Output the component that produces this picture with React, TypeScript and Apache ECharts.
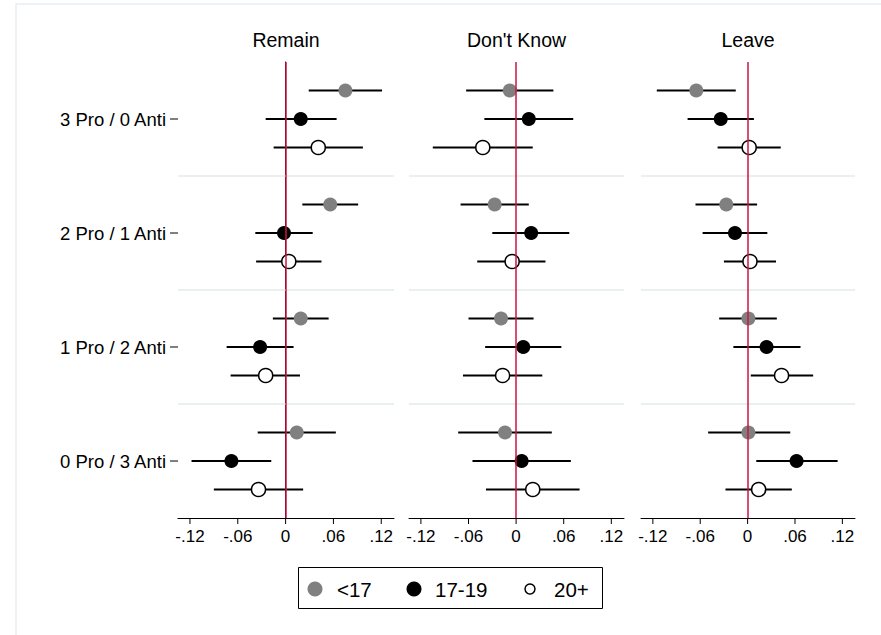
import React, { useEffect, useRef } from "react";
import * as echarts from "echarts";

// Row categories, bottom to top
const categories = ["0 Pro / 3 Anti", "1 Pro / 2 Anti", "2 Pro / 1 Anti", "3 Pro / 0 Anti"];
const panelTitles = ["Remain", "Don't Know", "Leave"];
const groupNames = ["<17", "17-19", "20+"];
const xTicks = [-0.12, -0.06, 0, 0.06, 0.12];

// [estimate, lower, upper] per category (bottom to top)
const remainLt17 = [[0.014, -0.035, 0.063], [0.019, -0.016, 0.054], [0.056, 0.021, 0.091], [0.075, 0.029, 0.121]];
const remain1719 = [[-0.068, -0.118, -0.018], [-0.032, -0.074, 0.010], [-0.002, -0.038, 0.034], [0.019, -0.025, 0.064]];
const remain20 = [[-0.034, -0.090, 0.022], [-0.025, -0.069, 0.018], [0.004, -0.037, 0.045], [0.041, -0.015, 0.097]];

const dkLt17 = [[-0.014, -0.073, 0.045], [-0.019, -0.060, 0.022], [-0.027, -0.070, 0.016], [-0.008, -0.063, 0.047]];
const dk1719 = [[0.007, -0.055, 0.069], [0.009, -0.039, 0.057], [0.019, -0.030, 0.067], [0.016, -0.040, 0.072]];
const dk20 = [[0.021, -0.038, 0.080], [-0.017, -0.067, 0.033], [-0.005, -0.049, 0.037], [-0.042, -0.105, 0.021]];

const leaveLt17 = [[0.001, -0.050, 0.054], [0.001, -0.036, 0.037], [-0.027, -0.066, 0.012], [-0.065, -0.115, -0.015]];
const leave1719 = [[0.062, 0.011, 0.114], [0.024, -0.018, 0.067], [-0.016, -0.057, 0.025], [-0.034, -0.076, 0.008]];
const leave20 = [[0.014, -0.028, 0.056], [0.043, 0.004, 0.083], [0.003, -0.030, 0.036], [0.002, -0.038, 0.042]];

const panelData = [
  [remainLt17, remain1719, remain20],
  [dkLt17, dk1719, dk20],
  [leaveLt17, leave1719, leave20],
];

const FONT = "'Liberation Sans', Arial, Helvetica, sans-serif";
const X_MIN = -0.135;
const X_MAX = 0.136;
const groupOffsets = [1, 0, -1];
const groupStyles = [
  { color: "#808080", borderColor: "#808080", borderWidth: 0 },
  { color: "#000000", borderColor: "#000000", borderWidth: 0 },
  { color: "#ffffff", borderColor: "#000000", borderWidth: 1.5 },
];
const grids = [
  { left: 178, top: 62, width: 216, height: 456 },
  { left: 409, top: 62, width: 215, height: 456 },
  { left: 641, top: 62, width: 214, height: 456 },
];

function fmtX(v: number) {
  if (Math.abs(v) < 1e-9) return "0";
  const s = Math.abs(v).toFixed(2).replace(/^0/, "");
  return (v < 0 ? "-" : "") + s;
}

export default function App() {
  const ref = useRef<HTMLDivElement>(null);
  useEffect(() => {
    if (!ref.current) return;
    const chart = echarts.init(ref.current, undefined, { renderer: "svg" });
    const yTickVals = categories.map((_, i) => 2 + 4 * i);

    const xAxis = grids.map((_, p) => ({
      type: "value",
      gridIndex: p,
      min: X_MIN,
      max: X_MAX,
      axisLine: { show: true, lineStyle: { color: "#000", width: 1 } },
      axisTick: { show: false },
      axisLabel: { show: true, customValues: xTicks, formatter: fmtX, fontSize: 17, color: "#000", fontFamily: FONT, margin: 10 },
      splitLine: { show: false },
    }));
    const yAxis = grids.map((_, p) => ({
      type: "value",
      gridIndex: p,
      min: 0,
      max: 16,
      axisLine: { show: p === 0, lineStyle: { color: "#000", width: 1 } },
      axisTick: { show: false },
      axisLabel: {
        show: p === 0,
        customValues: yTickVals,
        formatter: (v: number) => categories[Math.round((v - 2) / 4)] ?? "",
        fontSize: 18.5,
        color: "#000",
        fontFamily: FONT,
        margin: 12,
      },
      splitLine: { show: false },
    }));

    const series: any[] = [];
    grids.forEach((_, p) => {
      // reference lines
      series.push({
        type: "scatter",
        xAxisIndex: p,
        yAxisIndex: p,
        data: [],
        silent: true,
        z: 1,
        markLine: {
          silent: true,
          symbol: "none",
          label: { show: false },
          animation: false,
          data: [
            { yAxis: 4, lineStyle: { color: "#e9f0f2", width: 2, type: "solid" } },
            { yAxis: 8, lineStyle: { color: "#e9f0f2", width: 2, type: "solid" } },
            { yAxis: 12, lineStyle: { color: "#e9f0f2", width: 2, type: "solid" } },
            { xAxis: 0, lineStyle: { color: "#cc1445", width: 1.5, type: "solid" } },
          ],
        },
      });
      // x-axis tick marks
      series.push({
        type: "custom",
        xAxisIndex: p,
        yAxisIndex: p,
        silent: true,
        clip: false,
        z: 5,
        encode: { x: 0, y: 1 },
        data: xTicks.map((v) => [v, 0]),
        renderItem: (params: any, api: any) => {
          const c = api.coord([api.value(0), api.value(1)]);
          return {
            type: "line",
            shape: { x1: c[0], y1: c[1], x2: c[0], y2: c[1] + 6 },
            style: { stroke: "#000", lineWidth: 1 },
          };
        },
      });
      if (p === 0) {
        // y-axis tick marks
        series.push({
          type: "custom",
          xAxisIndex: p,
          yAxisIndex: p,
          silent: true,
          clip: false,
          z: 5,
          encode: { x: 0, y: 1 },
          data: yTickVals.map((v) => [X_MIN, v]),
          renderItem: (params: any, api: any) => {
            const c = api.coord([api.value(0), api.value(1)]);
            return {
              type: "line",
              shape: { x1: c[0], y1: c[1], x2: c[0] - 8, y2: c[1] },
              style: { stroke: "#000", lineWidth: 1 },
            };
          },
        });
      }
      panelData[p].forEach((arr, g) => {
        const off = groupOffsets[g];
        series.push({
          type: "custom",
          name: groupNames[g],
          xAxisIndex: p,
          yAxisIndex: p,
          z: 2,
          silent: true,
          encode: { x: [0, 1], y: 2 },
          data: arr.map((d, i) => [d[1], d[2], 2 + 4 * i + off]),
          renderItem: (params: any, api: any) => {
            const a = api.coord([api.value(0), api.value(2)]);
            const b = api.coord([api.value(1), api.value(2)]);
            return {
              type: "line",
              shape: { x1: a[0], y1: a[1], x2: b[0], y2: b[1] },
              style: { stroke: "#000", lineWidth: 2 },
            };
          },
        });
        series.push({
          type: "scatter",
          name: groupNames[g],
          xAxisIndex: p,
          yAxisIndex: p,
          z: 3,
          symbol: "circle",
          symbolSize: 14,
          itemStyle: { ...groupStyles[g], opacity: 1 },
          data: arr.map((d, i) => [d[0], 2 + 4 * i + off]),
        });
      });
    });

    const legendText = (t: string, x: number) => ({
      type: "text",
      x,
      y: 589,
      style: { text: t, textVerticalAlign: "middle", verticalAlign: "middle", fontSize: 20.5, fontFamily: FONT, fill: "#000" },
    });

    const graphic: any[] = [
      {
        type: "rect",
        shape: { x: 16, y: 4, width: 1000, height: 1000 },
        style: { fill: "none", stroke: "#e6eef2", lineWidth: 1.5 },
        silent: true,
        z: -10,
      },
      ...panelTitles.map((t, p) => ({
        type: "text",
        x: grids[p].left + grids[p].width / 2,
        y: 40,
        style: {
          text: t,
          textAlign: "center",
          textVerticalAlign: "middle",
          verticalAlign: "middle",
          fontSize: 19.5,
          fontFamily: FONT,
          fill: "#000",
        },
      })),
      {
        type: "rect",
        shape: { x: 298.5, y: 567.5, width: 304, height: 41 },
        style: { fill: "#fff", stroke: "#000", lineWidth: 1 },
      },
      { type: "circle", shape: { cx: 315, cy: 589, r: 7.5 }, style: { fill: "#808080" } },
      legendText(groupNames[0], 337),
      { type: "circle", shape: { cx: 414, cy: 589, r: 7.5 }, style: { fill: "#000" } },
      legendText(groupNames[1], 435),
      { type: "circle", shape: { cx: 530, cy: 589, r: 5 }, style: { fill: "#fff", stroke: "#000", lineWidth: 1.5 } },
      legendText(groupNames[2], 554),
    ];

    chart.setOption({
      animation: false,
      backgroundColor: "#ffffff",
      textStyle: { fontFamily: FONT },
      grid: grids.map((g) => ({ ...g, containLabel: false })),
      xAxis,
      yAxis,
      series,
      graphic,
    });
    return () => chart.dispose();
  }, []);

  return (
    <div
      ref={ref}
      style={{ position: "fixed", left: 0, top: 0, width: 881, height: 635 }}
    />
  );
}
